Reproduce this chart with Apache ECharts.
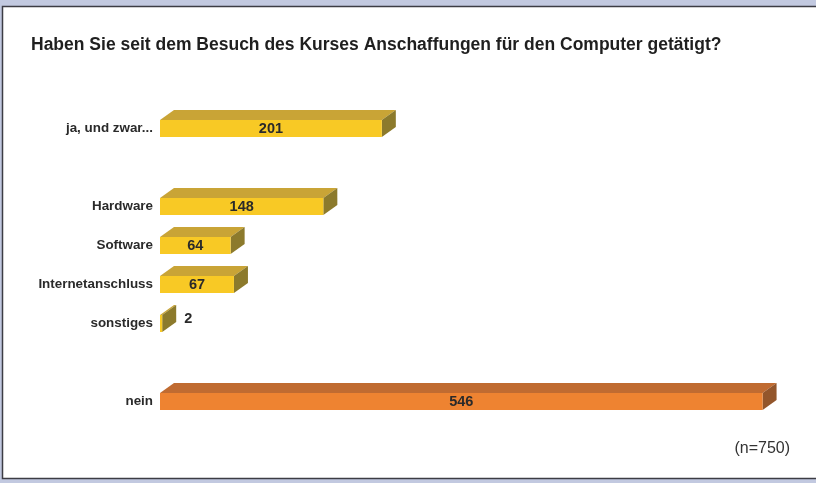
<!DOCTYPE html>
<html>
<head>
<meta charset="utf-8">
<script src="https://cdn.jsdelivr.net/npm/echarts@6/dist/echarts.min.js"></script>
<style>
  html, body { margin: 0; padding: 0; background: #c2c9e0; }
  #chart { width: 816px; height: 483px; }
</style>
</head>
<body>
<div id="chart"></div>
<script>
// rows top to bottom, '' = empty spacer row
var categories = ['ja, und zwar...', '', 'Hardware', 'Software', 'Internetanschluss', 'sonstiges', '', 'nein'];
var jaValues   = [201, null, 148, 64, 67, 2, null, null];
var neinValues = [null, null, null, null, null, null, null, 546];

var title = 'Haben Sie seit dem Besuch des Kurses Anschaffungen für den Computer getätigt?';
var note = '(n=750)';

var depthX = 14, depthY = 10, faceH = 17;

function toData(values) {
    var out = [];
    for (var i = 0; i < values.length; i++) {
        if (values[i] !== null) out.push([i, values[i]]);
    }
    return out;
}

function makeRender(front, top, side) {
    return function (params, api) {
        var cat = api.value(0), val = api.value(1);
        var p0 = api.coord([0, cat]);
        var p1 = api.coord([val, cat]);
        var x0 = p0[0], x1 = p1[0];
        var t = p1[1] - faceH / 2, b = p1[1] + faceH / 2;
        var small = (x1 - x0) < 30;
        return {
            type: 'group',
            children: [
                { type: 'polygon', shape: { points: [[x0, t], [x0 + depthX, t - depthY], [x1 + depthX, t - depthY], [x1, t]] }, style: { fill: top } },
                { type: 'polygon', shape: { points: [[x1, t], [x1 + depthX, t - depthY], [x1 + depthX, b - depthY], [x1, b]] }, style: { fill: side } },
                { type: 'rect', shape: { x: x0, y: t, width: x1 - x0, height: faceH }, style: { fill: front } },
                {
                    type: 'text',
                    x: small ? x1 + depthX + 8 : (x0 + x1) / 2,
                    y: small ? p1[1] - 5 : p1[1],
                    style: {
                        text: String(val),
                        fill: '#2a2a2a',
                        font: 'bold 14.5px "Liberation Sans", Arial, sans-serif',
                        align: small ? 'left' : 'center',
                        verticalAlign: 'middle'
                    }
                }
            ]
        };
    };
}

var chart = echarts.init(document.getElementById('chart'));
var option = {
    animation: false,
    backgroundColor: 'transparent',
    graphic: [
        { type: 'rect', shape: { x: 2.5, y: 6.5, width: 830, height: 472 }, style: { fill: '#fff', stroke: '#3c3c44', lineWidth: 1.5 }, z: -10 },
        { type: 'text', left: 31, top: 36, style: { text: title, fill: '#1f1f1f', font: 'bold 17.5px "Liberation Sans", Arial, sans-serif' } },
        { type: 'text', right: 26, top: 441, style: { text: note, fill: '#333', font: '16px "Liberation Sans", Arial, sans-serif' } }
    ],
    grid: { left: 160, top: 109, width: 607, height: 312 },
    xAxis: { type: 'value', min: 0, max: 550, show: false },
    yAxis: {
        type: 'category',
        inverse: true,
        data: categories,
        axisLine: { show: false },
        axisTick: { show: false },
        axisLabel: { color: '#2a2a2a', fontWeight: 'bold', fontSize: 13.4, fontFamily: '"Liberation Sans", Arial, sans-serif', margin: 7 }
    },
    series: [
        { type: 'custom', name: 'ja', data: toData(jaValues), encode: { x: 1, y: 0 }, renderItem: makeRender('#f8c925', '#c9a436', '#8c7a2c'), clip: false },
        { type: 'custom', name: 'nein', data: toData(neinValues), encode: { x: 1, y: 0 }, renderItem: makeRender('#ee8331', '#c06b31', '#93562b'), clip: false }
    ]
};
chart.setOption(option);
</script>
</body>
</html>
